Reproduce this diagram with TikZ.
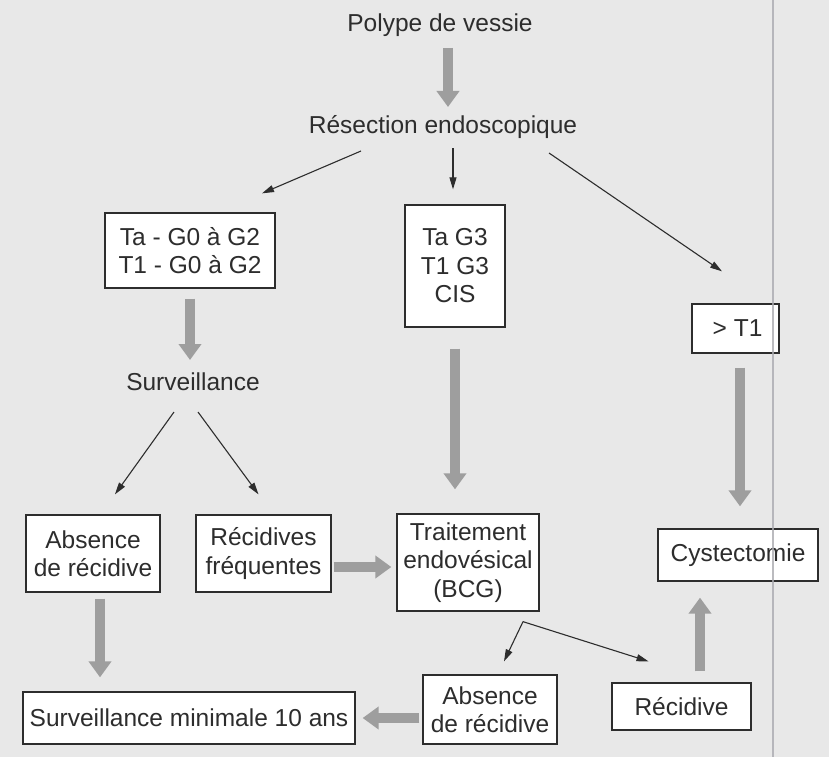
\documentclass[tikz,border=0pt]{standalone}
\usepackage{fontspec}
\setmainfont{Liberation Sans}
\usetikzlibrary{arrows.meta,calc}
\definecolor{bgcol}{RGB}{232,232,232}
\definecolor{txtcol}{RGB}{45,45,45}
\definecolor{fatcol}{RGB}{158,158,158}
\definecolor{scanline}{RGB}{170,170,176}
\tikzset{
  lbl/.style={font=\fontsize{24.5}{28.5}\selectfont, text=txtcol, align=center, inner sep=0pt},
  boxn/.style={lbl, draw=txtcol, line width=1.3pt, fill=white, minimum width=#1},
  thinarr/.style={draw=txtcol, line width=1.1pt, -{Triangle[length=12pt,width=7pt]}},
  fatarr/.style={draw=fatcol, line width=10pt, -{Triangle[length=16pt,width=22pt]}}
}
\begin{document}
\begin{tikzpicture}[x=1pt,y=-1pt]
\useasboundingbox[fill=bgcol] (0,0) rectangle (829,757);

% text-only nodes
\node[lbl] (poly) at (440,25) {Polype de vessie};
\node[lbl] (res) at (443,127) {Résection endoscopique};
\node[lbl] (surv) at (193,382) {Surveillance};

% boxes
\node[boxn=170pt, minimum height=75pt] (b1) at (190,250.5) {Ta - G0 à G2\\T1 - G0 à G2};
\node[boxn=100pt, minimum height=122pt] (b2) at (455,266) {Ta G3\\T1 G3\\CIS};
\node[boxn=87pt, minimum height=49pt] (b3) at (735.5,328.5) {\,> T1};
\node[boxn=134pt, minimum height=77pt] (c1) at (93,553.5) {Absence\\de récidive};
\node[boxn=135pt, minimum height=77pt] (c2) at (263.5,553.5) {Récidives\\fréquentes};
\node[boxn=142pt, minimum height=97pt] (c3) at (468,562.5) {Traitement\\endovésical\\(BCG)};
\node[boxn=160pt, minimum height=52pt] (c4) at (738,555) {Cystectomie};
\node[boxn=332pt, minimum height=52pt] (d1) at (189,718) {Surveillance minimale 10 ans};
\node[boxn=134pt, minimum height=69pt] (d2) at (490,709.5) {Absence\\de récidive};
\node[boxn=139pt, minimum height=47pt] (d3) at (681.5,706.5) {Récidive};

% fat grey arrows
\draw[fatarr] ($(poly)+(8,23)$) -- ($(res)+(5,-20)$);
\draw[fatarr] ($(b1.south)+(0,10)$) -- ($(surv)+(-3,-22)$);
\draw[fatarr] ($(b2.south)+(0,21)$) -- ($(c3.north)+(-13,-24)$);
\draw[fatarr] ($(b3.south)+(4.5,14)$) -- ($(c4.north)+(2,-22)$);
\draw[fatarr] ($(c2.east)+(2,13.5)$) -- ($(c3.west)+(-5,4.5)$);
\draw[fatarr] ($(c1.south)+(7,6)$) -- ($(d1.north)+(-89,-14)$);
\draw[fatarr] ($(d2.west)+(-3,8.5)$) -- ($(d1.east)+(7,0)$);
\draw[fatarr] ($(d3.north)+(18.5,-11)$) -- ($(c4.south)+(-38,16)$);

% thin black arrows
\draw[thinarr] ($(res)+(-82,24)$) -- ($(b1.north)+(72,-19)$);
\draw[thinarr] ($(res)+(10,21)$) -- ($(b2.north)+(-2,-15)$);
\draw[thinarr] ($(res)+(106,26)$) -- ($(b3.north)+(-13.5,-32)$);
\draw[thinarr] ($(surv)+(-19,30)$) -- ($(c1.north)+(22,-20)$);
\draw[thinarr] ($(surv)+(5,30)$) -- ($(c2.north)+(-5,-20)$);
\coordinate (bend) at ($(c3.south)+(55,10)$);
\draw[thinarr] (bend) -- ($(d2.north)+(14,-13)$);
\draw[thinarr] (bend) -- ($(d3.north)+(-33,-21)$);

% scan line
\draw[scanline, line width=2.5pt, opacity=0.8] (773,0) -- (773,757);
\end{tikzpicture}
\end{document}
